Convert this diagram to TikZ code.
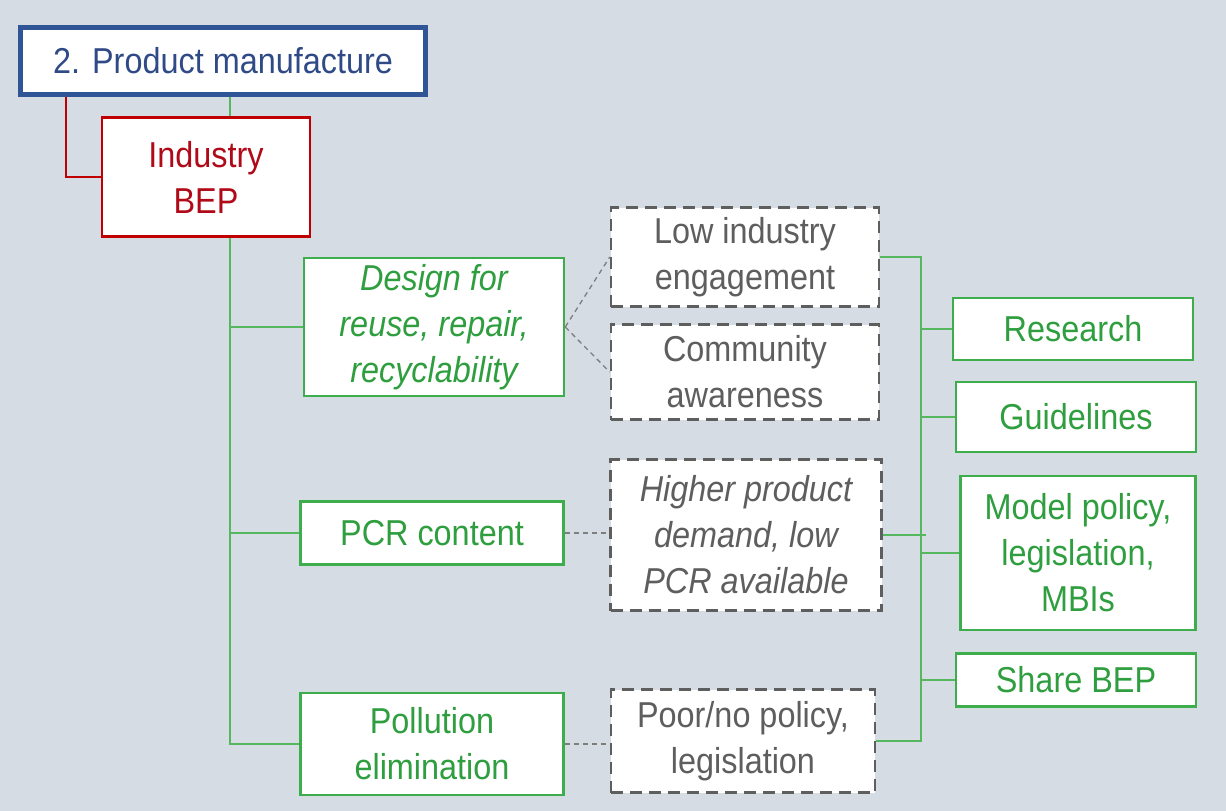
\documentclass[tikz,border=0pt]{standalone}
\usepackage{fontspec}
\setmainfont{Liberation Sans}[FakeStretch=0.9]
\usepackage{tikz}
\usetikzlibrary{backgrounds, calc, positioning}
\usepackage{xcolor}
\definecolor{Slate}{HTML}{D6DCE4}
\definecolor{Navy}{HTML}{2F5597}
\definecolor{NavyText}{HTML}{2F4A86}
\definecolor{Crimson}{HTML}{C00000}
\definecolor{CrimsonText}{HTML}{B00A18}
\definecolor{Leaf}{HTML}{3DAE4B}
\definecolor{LeafText}{HTML}{2E9E3F}
\definecolor{LeafLine}{HTML}{55B85E}
\definecolor{Ash}{HTML}{5E5E5E}
\tikzset{%
  title_block/.style={%
    rectangle,%
    draw=Navy,%
    line width=5pt,%
    fill=white,%
    text=NavyText,%
    inner sep=0pt,%
    minimum width=405pt,%
    minimum height=67pt,%
    font={\fontsize{36}{46}\selectfont},%
    align=center%
  },
  bep_block/.style={%
    rectangle,%
    draw=Crimson,%
    line width=2.5pt,%
    fill=white,%
    text=CrimsonText,%
    inner sep=0pt,%
    minimum width=208pt,%
    minimum height=119pt,%
    font={\fontsize{36}{46}\selectfont},%
    align=center%
  },
  green_block/.style={%
    rectangle,%
    draw=Leaf,%
    line width=2.5pt,%
    fill=white,%
    text=LeafText,%
    inner sep=0pt,%
    font={\fontsize{36}{46}\selectfont},%
    align=center%
  },
  gap_block/.style={%
    rectangle,%
    draw=Ash,%
    line width=2.5pt,%
    dash pattern=on 12pt off 7pt,%
    fill=white,%
    text=Ash,%
    inner sep=0pt,%
    font={\fontsize{36}{46}\selectfont},%
    align=center%
  },
  green_path/.style={%
    color=LeafLine,%
    line width=1.6pt,%
  },
  red_path/.style={%
    color=Crimson,%
    line width=2.5pt,%
  },
  gap_path/.style={%
    color=Ash!80,%
    line width=1.3pt,%
    dash pattern=on 5pt off 4pt,%
  },
}
\begin{document}
\begin{tikzpicture}[x=1pt, y=-1pt]

  \useasboundingbox (0,0) rectangle (1226,811);

  \node [title_block] (Title) at (223,61) {2. Product manufacture};
  \node [bep_block] (BEP) at (206,177) {Industry\\BEP};

  \node [green_block, minimum width=260pt, minimum height=138pt] (Design) at (434,327)
    {\itshape Design for\\\itshape reuse, repair,\\\itshape recyclability};
  \node [green_block, minimum width=263pt, minimum height=63pt] (PCR) at (432,533) {PCR content};
  \node [green_block, minimum width=263pt, minimum height=102pt] (Pollution) at (432,744)
    {Pollution\\elimination};

  \node [gap_block, minimum width=268pt, minimum height=99pt] (Engage) at (745,257)
    {Low industry\\engagement};
  \node [gap_block, minimum width=268pt, minimum height=95pt] (Aware) at (745,372)
    {Community\\awareness};
  \node [gap_block, minimum width=271pt, minimum height=151pt] (Demand) at (746,535)
    {\itshape Higher product\\\itshape demand, low\\\itshape PCR available};
  \node [gap_block, minimum width=264pt, minimum height=103pt] (Policy) at (743,741)
    {Poor/no policy,\\legislation};

  \node [green_block, minimum width=240pt, minimum height=62pt] (Research) at (1073,329) {Research};
  \node [green_block, minimum width=240pt, minimum height=70pt] (Guidelines) at (1076,417) {Guidelines};
  \node [green_block, minimum width=235pt, minimum height=154pt] (Model) at (1078,553)
    {Model policy,\\legislation,\\MBIs};
  \node [green_block, minimum width=240pt, minimum height=53pt] (Share) at (1076,680) {Share BEP};

  \coordinate (trunk) at (230,744);
  \coordinate (bus) at (921,741);

  \begin{scope}[on background layer]
    \fill [Slate] (0,0) rectangle (1226,811);
    \draw [red_path]
      ([xshift=48pt]Title.south west)
      |-
      (BEP.west);
    \draw [green_path]
      (trunk |- Title.south)
      --
      (trunk)
      --
      (Pollution.west);
    \draw [green_path] (trunk |- Design.west) -- (Design.west);
    \draw [green_path] (trunk |- PCR.west) -- (PCR.west);
  \end{scope}

  \draw [gap_path] (Design.east) -- (Engage.west);
  \draw [gap_path] (Design.east) -- (Aware.west);
  \draw [gap_path] (PCR.east) -- (PCR.east -| Demand.west);
  \draw [gap_path] (Pollution.east) -- (Pollution.east -| Policy.west);

  \draw [green_path]
    (Engage.east)
    -|
    (bus)
    --
    (Policy.east);
  \draw [green_path] (Demand.east) -- ([xshift=5pt]bus |- Demand.east);
  \draw [green_path] (bus |- Research.west) -- (Research.west);
  \draw [green_path] (bus |- Guidelines.west) -- (Guidelines.west);
  \draw [green_path] (bus |- Model.west) -- (Model.west);
  \draw [green_path] (bus |- Share.west) -- (Share.west);
\end{tikzpicture}
\end{document}
